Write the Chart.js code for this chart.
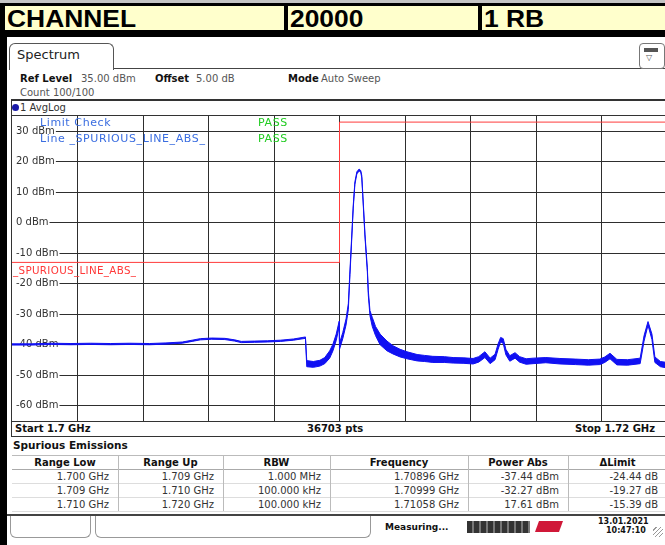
<!DOCTYPE html>
<html><head><meta charset="utf-8">
<script src="https://cdn.jsdelivr.net/npm/chart.js@4.4.1/dist/chart.umd.min.js"></script>
<style>
html,body{margin:0;padding:0;}
body{width:665px;height:545px;overflow:hidden;position:relative;background:#fff;font-family:"DejaVu Sans",sans-serif;color:#222;}
div,span,canvas{position:absolute;}
.t{white-space:nowrap;line-height:1;font-size:10px;}
.b{font-weight:bold;color:#111;}
.g{color:#555;}
.hdr{background:#ffffcc;overflow:hidden;}
.hdr span{font-family:"Liberation Sans",Arial,sans-serif;font-weight:bold;font-size:24px;line-height:26px;left:2px;top:0;transform:scaleX(1.1);transform-origin:0 0;color:#000;white-space:nowrap;}
.th{font-weight:bold;text-align:center;color:#111;}
.td{text-align:right;color:#333;}
.lc{font-size:11px;letter-spacing:0.6px;}
</style></head><body>

<!-- top header -->
<div style="left:0;top:0;width:665px;height:3px;background:#c4c4c4"></div>
<div style="left:0;top:3px;width:665px;height:34px;background:#000"></div>
<div class="hdr" style="left:5px;top:6px;width:279px;height:24px"><span>CHANNEL</span></div>
<div class="hdr" style="left:288px;top:6px;width:190px;height:24px"><span>20000</span></div>
<div class="hdr" style="left:482px;top:6px;width:183px;height:24px"><span>1 RB</span></div>
<div style="left:0;top:37px;width:7px;height:508px;background:#000"></div>

<!-- tab -->
<div style="left:113px;top:68px;width:552px;height:1px;background:#444"></div>
<div style="left:9px;top:43px;width:103px;height:26px;border:1px solid #555;border-bottom:none;border-radius:6px 6px 0 0;background:#fff"></div>
<div class="t" style="left:17px;top:48px;font-size:13px;color:#222">Spectrum</div>
<div style="left:639px;top:43px;width:24px;height:24px;border:1px solid #777;border-radius:4px;background:#fff"></div>
<div style="left:644px;top:48px;width:14px;height:4px;background:#555"></div>
<div class="t" style="left:646px;top:54px;font-size:8px;color:#555">▽</div>

<!-- settings -->
<div class="t b" style="left:20px;top:74px">Ref Level</div>
<div class="t g" style="left:81px;top:74px">35.00 dBm</div>
<div class="t b" style="left:155px;top:74px">Offset</div>
<div class="t g" style="left:196px;top:74px">5.00 dB</div>
<div class="t b" style="left:288px;top:74px">Mode</div>
<div class="t g" style="left:321px;top:74px">Auto Sweep</div>
<div class="t g" style="left:20px;top:88px">Count 100/100</div>

<!-- diagram frame -->
<div style="left:12px;top:99px;width:653px;height:2px;background:#333"></div>
<div style="left:11px;top:99px;width:1px;height:338px;background:#333"></div>
<div style="left:12px;top:104px;width:7px;height:7px;border-radius:50%;background:#1a1aa8"></div>
<div class="t" style="left:20px;top:103px;color:#333">1 AvgLog</div>
<div style="left:11px;top:115px;width:655px;height:305px;border:1px solid #333"></div>
<canvas id="c" width="655" height="305" style="left:12px;top:116px"></canvas>

<div class="t lc" style="left:40px;top:117px;color:#3a6de0">Limit Check</div>
<div class="t lc" style="left:258px;top:117px;color:#22cc22">PASS</div>
<div class="t lc" style="left:40px;top:133px;color:#3a6de0">Line _SPURIOUS_LINE_ABS_</div>
<div class="t lc" style="left:258px;top:133px;color:#22cc22">PASS</div>
<div class="t" style="left:13px;top:265px;font-size:10.3px;letter-spacing:0.35px;color:#ff3838">_SPURIOUS_LINE_ABS_</div>

<div style="left:11px;top:436px;width:656px;height:1px;background:#333"></div>
<div class="t b" style="left:15px;top:424px">Start 1.7 GHz</div>
<div class="t b" style="left:307px;top:424px">36703 pts</div>
<div class="t b" style="left:575px;top:424px">Stop 1.72 GHz</div>

<!-- table -->
<div class="t b" style="left:13px;top:440px;font-size:10.5px">Spurious Emissions</div>
<div id="tbl"></div>

<!-- status bar -->
<div style="left:7px;top:514px;width:658px;height:2px;background:#444"></div>
<div style="left:10px;top:516px;width:79px;height:21px;border:1px solid #999;border-top:none;border-radius:0 0 6px 6px"></div>
<div style="left:95px;top:516px;width:274px;height:21px;border:1px solid #999;border-top:none;border-radius:0 0 6px 6px"></div>
<div class="t b" style="left:385px;top:523px;font-size:9px">Measuring...</div>
<div style="left:467px;top:521px;width:63px;height:12px;background:repeating-linear-gradient(90deg,#333 0 5px,#777 5px 7px)"></div>
<div style="left:537px;top:521px;width:24px;height:11px;background:#d01838;transform:skewX(-20deg)"></div>
<div class="t b" style="left:598px;top:518px;font-size:8px">13.01.2021</div>
<div class="t b" style="left:606px;top:527px;font-size:8px">10:47:10</div>
<div style="left:653px;top:527px;width:10px;height:10px;background:repeating-linear-gradient(135deg,transparent 0 2px,#999 2px 3px)"></div>

<script>
// ---- data (frequency in MHz, level in dBm) ----
const freqMHz = [
 1700.0,1700.6,1701.2,1701.8,1702.4,1703.0,1703.6,1704.2,1704.7,1705.2,1705.5,1705.75,1706.1,1706.5,1706.8,1707.0,1707.4,1707.8,1708.2,1708.6,1708.96,
 1709.0,1709.2,1709.4,1709.55,1709.7,1709.8,1709.9,1709.99,
 1710.0,1710.1,1710.2,1710.27,1710.32,1710.37,1710.42,1710.47,1710.53,1710.60,1710.65,1710.68,1710.73,1710.78,1710.85,1710.88,1710.93,
 1711.0,1711.1,1711.24,1711.45,1711.63,1711.85,1712.06,1712.37,1712.6,1712.85,1713.2,1713.47,1713.8,1714.08,1714.25,1714.44,1714.6,1714.75,
 1714.84,1714.92,1715.0,1715.08,1715.2,1715.36,1715.5,1715.7,1715.91,1716.3,1716.73,1717.2,1717.6,1717.95,1718.1,1718.26,1718.47,1718.8,
 1719.18,1719.3,1719.42,1719.54,1719.63,1719.8,1720.0];
const traceUpper = [
 -39.7,-39.7,-39.5,-39.6,-39.5,-39.6,-39.5,-39.6,-39.4,-39.1,-38.5,-38.0,-37.8,-37.9,-38.4,-38.9,-38.8,-38.7,-38.5,-38.1,-37.44,
 -45.2,-45.5,-45.1,-44.2,-42.0,-39.8,-36.5,-32.27,
 -39.5,-36.0,-31.5,-26.5,-15.5,-5.0,5.8,13.4,16.7,17.61,17.1,15.5,5.8,-4.0,-14.8,-22.3,-28.8,
 -31.0,-34.0,-36.5,-38.8,-40.3,-41.5,-42.3,-43.2,-43.5,-43.8,-43.9,-44.2,-44.3,-44.5,-43.9,-42.3,-44.4,-43.1,
 -39.8,-37.6,-38.0,-41.5,-43.6,-42.6,-43.9,-44.6,-44.4,-44.2,-44.5,-44.7,-44.9,-44.7,-44.0,-42.8,-44.8,-44.9,
 -44.4,-37.0,-32.4,-36.5,-44.0,-45.5,-45.8];
const traceLower = [
 -40.1,-40.1,-39.9,-40.0,-39.9,-40.0,-39.9,-40.0,-39.8,-39.5,-38.9,-38.4,-38.2,-38.3,-38.8,-39.3,-39.2,-39.1,-38.9,-38.5,-37.9,
 -47.2,-47.4,-47.0,-46.2,-44.4,-42.0,-38.6,-34.0,
 -41.5,-38.0,-33.5,-28.5,-17.0,-6.2,4.8,12.6,16.0,17.0,16.5,14.7,4.8,-5.0,-16.0,-23.8,-30.5,
 -34.0,-37.0,-40.0,-42.0,-43.0,-44.0,-44.6,-45.3,-45.5,-45.8,-45.8,-46.0,-46.1,-46.3,-45.7,-44.2,-46.2,-44.9,
 -41.6,-39.0,-39.6,-43.3,-45.4,-44.4,-45.7,-46.4,-46.2,-45.9,-46.3,-46.5,-46.7,-46.5,-45.8,-44.6,-46.6,-46.7,
 -46.2,-38.8,-33.6,-38.3,-45.8,-47.2,-47.6];
const limitFreq = [1700, 1710, 1710, 1720];
const limitLevel = [-13, -13, 33, 33];
const yTicks = [30, 20, 10, 0, -10, -20, -30, -40, -50, -60];
const xGrid = [1702, 1704, 1706, 1708, 1710, 1712, 1714, 1716, 1718];

// table
const colEdges = [12, 118, 223, 330, 468, 568, 667];
const colHeads = ["Range Low", "Range Up", "RBW", "Frequency", "Power Abs", "ΔLimit"];
const rangeLow = ["1.700 GHz", "1.709 GHz", "1.710 GHz"];
const rangeUp = ["1.709 GHz", "1.710 GHz", "1.720 GHz"];
const rbw = ["1.000 MHz", "100.000 kHz", "100.000 kHz"];
const peakFreq = ["1.70896 GHz", "1.70999 GHz", "1.71058 GHz"];
const powerAbs = ["-37.44 dBm", "-32.27 dBm", "17.61 dBm"];
const deltaLimit = ["-24.44 dB", "-19.27 dB", "-15.39 dB"];

(function buildTable(){
  const host = document.getElementById('tbl');
  let h = '';
  const top = 455, rowH = 14;
  h += `<div style="left:12px;top:${top}px;width:655px;height:1px;background:#bbb"></div>`;
  for (let r = 0; r < 4; r++) {
    h += `<div style="left:12px;top:${top+rowH*(r+1)}px;width:655px;height:1px;background:${r===0?'#aaa':'#ddd'}"></div>`;
  }
  for (let c = 1; c < colEdges.length - 1; c++) {
    h += `<div style="left:${colEdges[c]}px;top:${top}px;width:1px;height:${rowH*4}px;background:#bbb"></div>`;
  }
  const cols = [rangeLow, rangeUp, rbw, peakFreq, powerAbs, deltaLimit];
  for (let c = 0; c < 6; c++) {
    const l = colEdges[c], w = colEdges[c+1] - colEdges[c];
    h += `<div class="t th" style="left:${l}px;top:${top+3}px;width:${w}px">${colHeads[c]}</div>`;
    for (let r = 0; r < 3; r++) {
      h += `<div class="t td" style="left:${l}px;top:${top+17+rowH*r}px;width:${w-9}px">${cols[c][r]}</div>`;
    }
  }
  host.innerHTML = h;
})();

const blue = '#1010f2';
const pts = (xs, ys) => xs.map((x, i) => ({x, y: ys[i]}));

new Chart(document.getElementById('c'), {
  type: 'line',
  data: {
    datasets: [
      { data: pts(freqMHz, traceUpper), borderColor: blue, backgroundColor: blue, borderWidth: 1, pointRadius: 0, fill: '+1', tension: 0 },
      { data: pts(freqMHz, traceLower), borderColor: blue, borderWidth: 1, pointRadius: 0, fill: false, tension: 0 },
      { data: pts(limitFreq, limitLevel), borderColor: '#ff3b3b', borderWidth: 1, pointRadius: 0, fill: false, tension: 0 }
    ]
  },
  options: {
    responsive: false,
    animation: false,
    devicePixelRatio: 1,
    layout: { padding: 0 },
    plugins: { legend: { display: false }, tooltip: { enabled: false } },
    scales: {
      x: {
        type: 'linear', min: 1700, max: 1720,
        afterBuildTicks: s => { s.ticks = xGrid.map(v => ({value: v})); },
        ticks: { display: false },
        grid: { color: '#2e2e2e', lineWidth: 1, drawTicks: false },
        border: { display: false },
        afterFit: s => { s.height = 0; s.paddingLeft = 0; s.paddingRight = 0; }
      },
      y: {
        type: 'linear', min: -65, max: 35,
        afterBuildTicks: s => { s.ticks = yTicks.map(v => ({value: v})); },
        ticks: {
          mirror: true, padding: 4, color: '#333',
          font: { family: 'DejaVu Sans', size: 10 },
          callback: v => v + ' dBm',
          showLabelBackdrop: true, backdropColor: '#ffffff',
          backdropPadding: { left: 4, right: 1, top: 0, bottom: 0 }
        },
        grid: { color: '#2e2e2e', lineWidth: 1, drawTicks: false },
        border: { display: false },
        afterFit: s => { s.width = 0; s.paddingTop = 0; s.paddingBottom = 0; }
      }
    }
  }
});
</script>
</body></html>
